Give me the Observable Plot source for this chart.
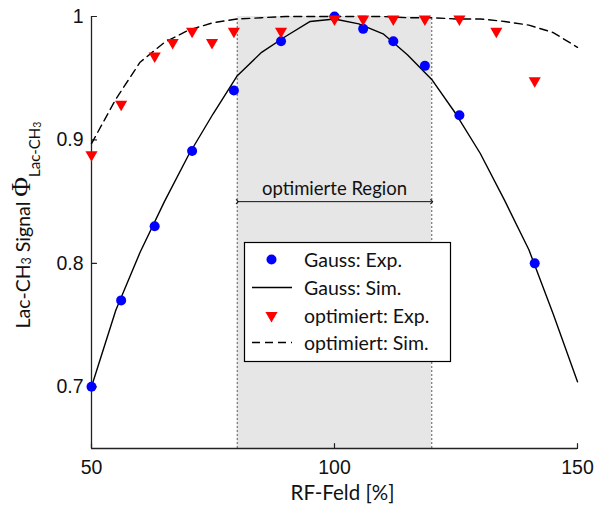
<!DOCTYPE html>
<html>
<head>
<meta charset="utf-8">
<script src="https://cdn.jsdelivr.net/npm/d3@7"></script>
<script src="https://cdn.jsdelivr.net/npm/@observablehq/plot@0.6"></script>
<style>
  html, body { margin: 0; padding: 0; background: #fff; }
  #chart svg { display: block; }
</style>
</head>
<body>
<div id="chart"></div>
<script>
// ---------- data ----------
const xDomain = [50, 150];
const yDomain = [0.65, 1.0];
const xTicks = [50, 100, 150];
const yTicks = [0.7, 0.8, 0.9, 1.0];
const yTickLabels = ["0.7", "0.8", "0.9", "1"];

// Gauss: experimental points
const gaussExpX = [50, 56.1, 63, 70.7, 79.3, 89, 100, 105.9, 112.1, 118.6, 125.7, 141.2];
const gaussExpY = [0.700, 0.770, 0.830, 0.891, 0.940, 0.980, 1.000, 0.990, 0.980, 0.960, 0.920, 0.800];

// optimiert: experimental points
const optExpX = [50, 56.1, 63, 66.7, 70.7, 74.8, 79.3, 89, 100, 105.9, 112.1, 118.6, 125.7, 133.3, 141.2];
const optExpY = [0.888, 0.929, 0.968, 0.979, 0.988, 0.979, 0.988, 0.988, 0.998, 0.998, 0.998, 0.998, 0.998, 0.988, 0.948];

// simulations
const simX = [50, 55, 60, 65, 70, 75, 80, 85, 90, 95, 100, 105, 110, 115, 120, 125, 130, 135, 140, 145, 150];
const gaussSimY = [0.700, 0.762, 0.809, 0.850, 0.888, 0.921, 0.952, 0.971, 0.984, 0.996, 0.998, 0.994, 0.986, 0.969, 0.949, 0.921, 0.889, 0.851, 0.811, 0.759, 0.704];
const optSimY = [0.897, 0.933, 0.963, 0.979, 0.989, 0.995, 0.998, 0.999, 1.000, 1.000, 1.000, 1.000, 1.000, 0.999, 0.999, 0.998, 0.998, 0.996, 0.993, 0.987, 0.975];

// optimised region
const region = [80, 120];
const regionArrowY = 0.85;
const regionLabel = "optimierte Region";

const legendLabels = ["Gauss: Exp.", "Gauss: Sim.", "optimiert: Exp.", "optimiert: Sim."];

// ---------- tables ----------
const gaussExp = gaussExpX.map((x, i) => ({x, y: gaussExpY[i]}));
const optExp = optExpX.map((x, i) => ({x, y: optExpY[i]}));
const gaussSim = simX.map((x, i) => ({x, y: gaussSimY[i]}));
const optSim = simX.map((x, i) => ({x, y: optSimY[i]}));
const regionRect = [{x1: region[0], x2: region[1], y1: yDomain[0], y2: yDomain[1]}];
const regionArrow = [{x1: region[0], x2: region[1], y: regionArrowY, label: regionLabel, xm: d3.mean(region)}];

const sans = "Lato, 'Open Sans', sans-serif";
const tickFont = "'Liberation Sans', Arial, sans-serif";
const axisColor = "#222";

const plot = Plot.plot({
  width: 594,
  height: 506,
  marginLeft: 91,
  marginRight: 17,
  marginTop: 16,
  marginBottom: 58,
  x: {domain: xDomain, label: null},
  y: {domain: yDomain, label: null},
  style: {fontFamily: sans, background: "#fff", overflow: "visible"},
  marks: [
    Plot.rect(regionRect, {x1: "x1", x2: "x2", y1: "y1", y2: "y2", fill: "#e6e6e6"}),
    Plot.ruleX(region, {y1: yDomain[0], y2: yDomain[1], stroke: "#7f7f7f", strokeWidth: 1.3, strokeDasharray: "2,2"}),
    Plot.link(regionArrow, {x1: "x1", x2: "x2", y1: "y", y2: "y", stroke: "#111", strokeWidth: 1, markerStart: "arrow", markerEnd: "arrow"}),
    Plot.text(regionArrow, {x: "xm", y: "y", text: "label", dy: -7, lineAnchor: "bottom", fontSize: 18.5, fill: "#111", fontFamily: sans}),
    // axes lines
    Plot.ruleY([yDomain[0]], {stroke: axisColor, strokeWidth: 1.3}),
    Plot.ruleX([xDomain[0]], {stroke: axisColor, strokeWidth: 1.3}),
    // inward ticks
    Plot.vector(xTicks, {x: d => d, y: yDomain[0], length: 5, rotate: 0, anchor: "start", shape: "spike", r: 0.001, stroke: axisColor, strokeWidth: 1.2}),
    Plot.vector(yTicks, {x: xDomain[0], y: d => d, length: 5, rotate: 90, anchor: "start", shape: "spike", r: 0.001, stroke: axisColor, strokeWidth: 1.2}),
    // tick labels
    Plot.axisX({ticks: xTicks, tickSize: 0, tickPadding: 12, label: null, fontSize: 19.5, fontFamily: tickFont, fill: "#111"}),
    Plot.axisY({ticks: yTicks, tickSize: 0, tickPadding: 8, label: null, fontSize: 19.5, fontFamily: tickFont, fill: "#111",
      tickFormat: d => yTickLabels[yTicks.indexOf(d)]}),
    // simulations
    Plot.line(gaussSim, {x: "x", y: "y", stroke: "#000", strokeWidth: 1.4}),
    Plot.line(optSim, {x: "x", y: "y", stroke: "#000", strokeWidth: 1.4, strokeDasharray: "8,5"}),
    // experiments
    Plot.dot(gaussExp, {x: "x", y: "y", r: 5, fill: "#0000ff", stroke: "none"}),
    Plot.dot(optExp, {x: "x", y: "y", symbol: "triangle", r: 4.5, rotate: 180, fill: "#ff0000", stroke: "none"})
  ]
});

document.getElementById("chart").appendChild(plot);

// ---------- legend & axis labels (inside the svg) ----------
const svg = d3.select(plot);
const lg = svg.append("g").attr("class", "legend");
lg.append("rect").attr("x", 244.5).attr("y", 242.5).attr("width", 206).attr("height", 119)
  .attr("fill", "#fff").attr("stroke", "#000").attr("stroke-width", 1.2);
const rows = [259.5, 287.5, 315.5, 342.5];
const sx = 271.5;
lg.append("circle").attr("cx", sx).attr("cy", rows[0]).attr("r", 5).attr("fill", "#0000ff");
lg.append("line").attr("x1", 252).attr("x2", 292).attr("y1", rows[1]).attr("y2", rows[1]).attr("stroke", "#000").attr("stroke-width", 1.4);
lg.append("path").attr("d", d3.symbol(d3.symbolTriangle, Math.PI * 4.5 * 4.5)()).attr("transform", `translate(${sx},${rows[2]}) rotate(180)`).attr("fill", "#ff0000");
lg.append("line").attr("x1", 252).attr("x2", 292).attr("y1", rows[3]).attr("y2", rows[3]).attr("stroke", "#000").attr("stroke-width", 1.4).attr("stroke-dasharray", "8,5");
legendLabels.forEach((t, i) => {
  lg.append("text").attr("x", 304).attr("y", rows[i]).attr("dy", "0.36em").attr("text-anchor", "start")
    .attr("font-family", sans).attr("font-size", 19.5).attr("fill", "#111").text(t);
});

// x label
svg.append("text").attr("x", 342.5).attr("y", 500).attr("text-anchor", "middle")
  .attr("font-family", sans).attr("font-size", 20.5).attr("fill", "#111").text("RF-Feld [%]");

// y label
const yl = svg.append("text").attr("transform", "translate(29.5,225) rotate(-90)")
  .attr("text-anchor", "middle").attr("font-family", sans).attr("font-size", 19.5).attr("fill", "#111");
yl.append("tspan").text("Lac-CH");
yl.append("tspan").attr("font-size", 12.5).attr("dy", 1.5).text("3");
yl.append("tspan").attr("dy", -1.5).text(" Signal ");
yl.append("tspan").attr("font-family", "'Liberation Serif', 'DejaVu Serif', serif").attr("font-size", 27).text("Φ");
yl.append("tspan").attr("font-size", 15).attr("dy", 10).text("Lac-CH");
yl.append("tspan").attr("font-size", 10.5).attr("dy", 1.5).text("3");
</script>
</body>
</html>
